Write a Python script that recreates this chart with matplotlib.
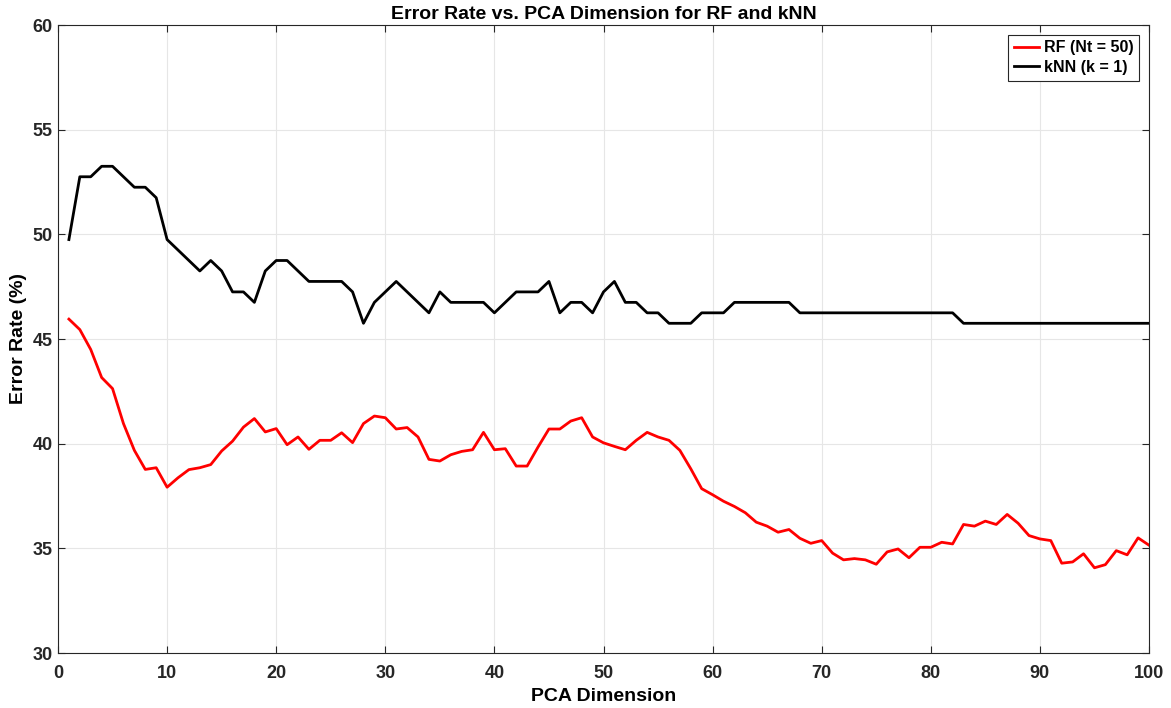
import numpy as np
import matplotlib.pyplot as plt

plt.rcParams['font.family'] = ['Liberation Sans', 'DejaVu Sans']
plt.rcParams['font.weight'] = 'bold'

# PCA dimension 1..100
dims = np.arange(1, 101)

# RF (Nt = 50) error rate (%)
rf_err = [
    45.95, 45.45, 44.50, 43.16, 42.63, 40.96, 39.68, 38.77, 38.85, 37.92,
    38.37, 38.76, 38.85, 39.00, 39.65, 40.12, 40.79, 41.20, 40.56, 40.72,
    39.95, 40.32, 39.73, 40.16, 40.16, 40.52, 40.05, 40.96, 41.32, 41.24,
    40.70, 40.77, 40.32, 39.25, 39.17, 39.47, 39.63, 39.71, 40.54, 39.71,
    39.76, 38.93, 38.93, 39.84, 40.70, 40.70, 41.08, 41.24, 40.32, 40.04,
    39.87, 39.71, 40.16, 40.54, 40.32, 40.16, 39.68, 38.80, 37.85, 37.56,
    37.25, 37.00, 36.70, 36.25, 36.06, 35.77, 35.90, 35.48, 35.24, 35.37,
    34.77, 34.45, 34.51, 34.45, 34.24, 34.83, 34.97, 34.55, 35.05, 35.05,
    35.29, 35.21, 36.14, 36.06, 36.30, 36.14, 36.62, 36.20, 35.61, 35.45,
    35.37, 34.29, 34.35, 34.74, 34.07, 34.22, 34.89, 34.69, 35.50, 35.15,
]

# kNN (k = 1) error rate (%)
knn_err = [
    49.75, 52.75, 52.75, 53.25, 53.25, 52.75, 52.25, 52.25, 51.75, 49.75,
    49.25, 48.75, 48.25, 48.75, 48.25, 47.25, 47.25, 46.75, 48.25, 48.75,
    48.75, 48.25, 47.75, 47.75, 47.75, 47.75, 47.25, 45.75, 46.75, 47.25,
    47.75, 47.25, 46.75, 46.25, 47.25, 46.75, 46.75, 46.75, 46.75, 46.25,
    46.75, 47.25, 47.25, 47.25, 47.75, 46.25, 46.75, 46.75, 46.25, 47.25,
    47.75, 46.75, 46.75, 46.25, 46.25, 45.75, 45.75, 45.75, 46.25, 46.25,
    46.25, 46.75, 46.75, 46.75, 46.75, 46.75, 46.75, 46.25, 46.25, 46.25,
    46.25, 46.25, 46.25, 46.25, 46.25, 46.25, 46.25, 46.25, 46.25, 46.25,
    46.25, 46.25, 45.75, 45.75, 45.75, 45.75, 45.75, 45.75, 45.75, 45.75,
    45.75, 45.75, 45.75, 45.75, 45.75, 45.75, 45.75, 45.75, 45.75, 45.75,
]

fig = plt.figure(figsize=(11.71, 7.08), dpi=100)
ax = fig.add_axes([58 / 1171, 1 - 653 / 708, (1149 - 58) / 1171, (653 - 25) / 708])

ax.plot(dims, rf_err, color='#ff0000', lw=2, label='RF (Nt = 50)')
ax.plot(dims, knn_err, color='black', lw=2, label='kNN (k = 1)')

ax.set_xlim(0, 100)
ax.set_ylim(30, 60)
ax.set_xticks(np.arange(0, 101, 10))
ax.set_yticks(np.arange(30, 61, 5))
ax.grid(True, color='#e6e6e6', lw=0.8)
ax.set_axisbelow(True)
ax.tick_params(direction='in', length=5, labelsize=13, colors='#262626',
               top=True, right=True, pad=4)
ax.tick_params(axis='x', pad=9)
for s in ax.spines.values():
    s.set_color('#262626')
    s.set_linewidth(0.8)

ax.set_xlabel('PCA Dimension', fontsize=14, fontweight='bold', labelpad=4)
ax.set_ylabel('Error Rate (%)', fontsize=14, fontweight='bold', labelpad=4)
ax.set_title('Error Rate vs. PCA Dimension for RF and kNN', fontsize=14,
             fontweight='bold', pad=4)

leg = ax.legend(loc='upper right', fontsize=11.5, fancybox=False, framealpha=1,
                edgecolor='#262626', handlelength=1.6, borderpad=0.35,
                labelspacing=0.3, handletextpad=0.3, borderaxespad=0.6)
leg.get_frame().set_linewidth(0.8)

fig.savefig('out.png', dpi=100)
